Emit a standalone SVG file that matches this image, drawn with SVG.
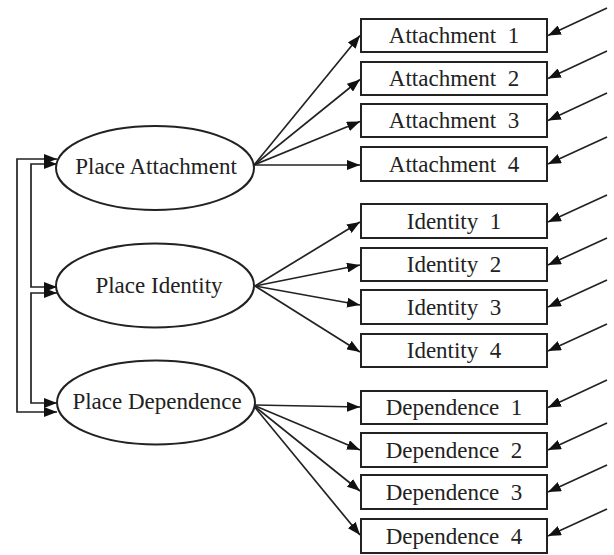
<svg xmlns="http://www.w3.org/2000/svg" width="614" height="555" viewBox="0 0 614 555">
<style>
.bg{fill:#ffffff}
.box{fill:#ffffff;stroke:#222;stroke-width:2}
.ell{fill:#ffffff;stroke:#222;stroke-width:2}
.t{font-family:"Liberation Serif","Times New Roman",serif;font-size:23px;fill:#222;text-anchor:middle;white-space:pre}
.c{fill:none;stroke:#222;stroke-width:1.7}
</style>
<defs>
<marker id="ah" viewBox="0 0 13 10" refX="13" refY="5" markerWidth="13" markerHeight="10" markerUnits="userSpaceOnUse" orient="auto-start-reverse">
<path d="M0,0 L13,5 L0,10 z" fill="#111"/>
</marker>
</defs>
<rect class="bg" x="0" y="0" width="614" height="555"/>

<g id="connectors">
<!-- correlations -->
<path class="c" d="M57,159 H17 V412 H57" marker-start="url(#ah)" marker-end="url(#ah)"/>
<path class="c" d="M57,164 H31 V287 H57" marker-start="url(#ah)" marker-end="url(#ah)"/>
<path class="c" d="M57,293 H31 V403 H57" marker-start="url(#ah)" marker-end="url(#ah)"/>
<!-- loadings -->
<path class="c" d="M254,165 L360,35.5" marker-end="url(#ah)"/>
<path class="c" d="M254,165 L360,79.5" marker-end="url(#ah)"/>
<path class="c" d="M254,165 L360,121.5" marker-end="url(#ah)"/>
<path class="c" d="M254,165 L360,165" marker-end="url(#ah)"/>
<path class="c" d="M255,286 L360,222" marker-end="url(#ah)"/>
<path class="c" d="M255,286 L360,265" marker-end="url(#ah)"/>
<path class="c" d="M255,286 L360,305" marker-end="url(#ah)"/>
<path class="c" d="M255,286 L360,352" marker-end="url(#ah)"/>
<path class="c" d="M253,405 L360,407" marker-end="url(#ah)"/>
<path class="c" d="M253,405 L360,450" marker-end="url(#ah)"/>
<path class="c" d="M253,405 L360,491" marker-end="url(#ah)"/>
<path class="c" d="M253,405 L360,535" marker-end="url(#ah)"/>
<!-- errors -->
<path class="c" d="M607,8 L548,35.5" marker-end="url(#ah)"/>
<path class="c" d="M607,51 L548,78.5" marker-end="url(#ah)"/>
<path class="c" d="M607,93 L548,120.5" marker-end="url(#ah)"/>
<path class="c" d="M607,137 L548,164" marker-end="url(#ah)"/>
<path class="c" d="M607,195 L548,222" marker-end="url(#ah)"/>
<path class="c" d="M607,238 L548,265" marker-end="url(#ah)"/>
<path class="c" d="M607,280 L548,307" marker-end="url(#ah)"/>
<path class="c" d="M607,324 L548,351" marker-end="url(#ah)"/>
<path class="c" d="M607,380 L548,407.5" marker-end="url(#ah)"/>
<path class="c" d="M607,423 L548,450" marker-end="url(#ah)"/>
<path class="c" d="M607,465 L548,492" marker-end="url(#ah)"/>
<path class="c" d="M607,509 L548,536" marker-end="url(#ah)"/>
</g>

<g id="place-attachment"><ellipse class="ell" cx="155" cy="168" rx="99" ry="42"/><text class="t" x="156" y="174">Place Attachment</text></g>
<g id="place-identity"><ellipse class="ell" cx="155" cy="285.5" rx="99" ry="42"/><text class="t" x="159" y="293">Place Identity</text></g>
<g id="place-dependence"><ellipse class="ell" cx="156" cy="402.5" rx="99" ry="42"/><text class="t" x="157" y="409">Place Dependence</text></g>

<g id="attachment-1"><rect class="box" x="361" y="19" width="186" height="33"/><text class="t" x="454" y="43" xml:space="preserve">Attachment  1</text></g>
<g id="attachment-2"><rect class="box" x="361" y="62" width="186" height="33"/><text class="t" x="454" y="86" xml:space="preserve">Attachment  2</text></g>
<g id="attachment-3"><rect class="box" x="361" y="104" width="186" height="33"/><text class="t" x="454" y="128" xml:space="preserve">Attachment  3</text></g>
<g id="attachment-4"><rect class="box" x="361" y="147" width="186" height="34"/><text class="t" x="454" y="172" xml:space="preserve">Attachment  4</text></g>

<g id="identity-1"><rect class="box" x="361" y="204" width="186" height="34"/><text class="t" x="454" y="229" xml:space="preserve">Identity  1</text></g>
<g id="identity-2"><rect class="box" x="361" y="248" width="186" height="33"/><text class="t" x="454" y="272" xml:space="preserve">Identity  2</text></g>
<g id="identity-3"><rect class="box" x="361" y="290" width="186" height="34"/><text class="t" x="454" y="315" xml:space="preserve">Identity  3</text></g>
<g id="identity-4"><rect class="box" x="361" y="334" width="186" height="33"/><text class="t" x="454" y="358" xml:space="preserve">Identity  4</text></g>

<g id="dependence-1"><rect class="box" x="361" y="391" width="186" height="33"/><text class="t" x="454" y="415" xml:space="preserve">Dependence  1</text></g>
<g id="dependence-2"><rect class="box" x="361" y="433" width="186" height="34"/><text class="t" x="454" y="458" xml:space="preserve">Dependence  2</text></g>
<g id="dependence-3"><rect class="box" x="361" y="475" width="186" height="34"/><text class="t" x="454" y="500" xml:space="preserve">Dependence  3</text></g>
<g id="dependence-4"><rect class="box" x="361" y="519" width="186" height="34"/><text class="t" x="454" y="544" xml:space="preserve">Dependence  4</text></g>
</svg>
